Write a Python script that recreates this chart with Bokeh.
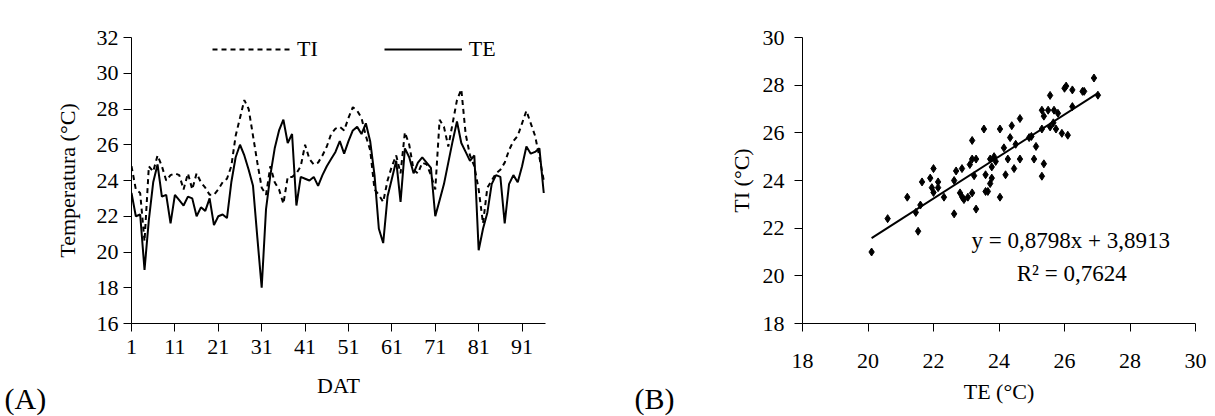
from bokeh.plotting import figure
from bokeh.models import FixedTicker, Label, Legend, LegendItem
from bokeh.layouts import row
from bokeh.embed import file_html
from bokeh.resources import INLINE

FONT = "Liberation Serif"

# ---------------- data (A) ----------------
dat = list(range(1, 97))
te = [23.3, 22.0, 22.1, 19.0, 21.8, 23.9, 24.9, 23.1, 23.2, 21.6,
      23.2, 22.9, 22.6, 23.1, 23.0, 22.0, 22.5, 22.3, 23.0, 21.5,
      22.0, 22.1, 21.9, 23.9, 25.3, 26.0, 25.4, 24.6, 23.7, 20.8,
      18.0, 22.4, 24.3, 25.8, 26.8, 27.4, 26.1, 26.6, 22.6, 24.2,
      24.1, 24.0, 24.2, 23.7, 24.3, 24.8, 25.2, 25.6, 26.2, 25.5,
      26.2, 26.8, 27.0, 26.6, 27.2, 26.2, 24.3, 21.3, 20.5, 23.1,
      24.1, 25.1, 22.8, 25.8, 25.3, 24.4, 25.0, 25.3, 25.0, 24.7,
      22.0, 22.9, 23.8, 25.0, 26.2, 27.3, 26.1, 25.6, 25.1, 25.4,
      20.1, 21.3, 22.2, 23.8, 24.3, 24.2, 21.6, 23.8, 24.3, 23.9,
      24.8, 25.9, 25.5, 25.6, 25.8, 23.3]
ti = [24.8, 23.5, 23.3, 20.6, 24.8, 24.5, 25.4, 24.8, 24.0, 24.3,
      24.4, 24.3, 23.5, 24.4, 23.5, 24.4, 23.9, 23.6, 23.2, 23.2,
      23.5, 23.9, 24.1, 24.8, 26.5, 27.5, 28.5, 28.0, 26.5, 25.0,
      23.6, 23.2, 24.8, 23.9, 23.5, 22.7, 24.2, 24.2, 24.4, 24.8,
      26.0, 25.2, 24.9, 25.0, 25.4, 25.9, 26.6, 26.9, 27.0, 26.8,
      27.5, 28.1, 27.9, 27.5, 26.5, 25.7, 23.5, 23.2, 22.8, 24.0,
      24.8, 25.4, 24.4, 26.7, 26.0, 24.6, 24.4, 25.0, 24.9, 24.3,
      23.5, 27.4, 27.0, 25.9, 27.2, 28.5, 29.1, 26.6, 25.4, 24.8,
      23.5, 21.6, 23.6, 24.0, 24.4, 24.6, 25.0, 25.7, 26.2, 26.5,
      27.2, 27.9, 27.2, 26.5, 25.3, 24.0]
dat_ticks = list(range(1, 97, 10))
temp_ticks = list(range(16, 33, 2))

# ---------------- data (B) ----------------
te_b = [20.11, 20.6, 21.2, 21.46, 21.53, 21.6, 21.65, 21.9, 22.0, 21.95,
        22.0, 22.14, 22.14, 22.32, 22.63, 22.63, 22.69, 22.87, 22.81, 22.88,
        22.93, 23.05, 23.11, 23.18, 23.18, 23.24, 23.18, 23.3, 23.3, 23.54,
        23.59, 23.66, 23.73, 23.78, 23.78, 23.85, 23.73, 23.9, 24.03, 24.03,
        24.15, 24.2, 24.27, 24.34, 24.39, 24.46, 24.51, 24.64, 24.64, 24.92,
        24.99, 25.07, 25.13, 25.31, 25.37, 25.31, 25.31, 25.37, 25.5, 25.56,
        25.56, 25.68, 25.66, 25.74, 25.8, 25.92, 26.0, 26.05, 26.1, 26.24,
        26.24, 26.55, 26.6, 26.9, 27.02, 23.59]
ti_b = [21.0, 22.4, 23.3, 22.66, 21.87, 22.97, 23.94, 24.1, 24.5, 23.7,
        23.5, 23.94, 23.7, 23.3, 24.0, 22.6, 24.4, 24.5, 23.48, 23.3,
        23.2, 23.3, 24.67, 25.68, 24.9, 24.2, 23.48, 22.8, 24.9, 26.16,
        24.24, 23.54, 23.87, 24.1, 24.57, 25.0, 24.9, 24.8, 26.16, 23.3,
        25.37, 24.24, 24.9, 25.8, 26.3, 24.5, 25.52, 26.6, 24.9, 25.8,
        25.85, 24.9, 25.43, 24.18, 24.7, 26.16, 26.95, 26.7, 26.95, 27.57,
        26.25, 26.95, 26.42, 26.16, 26.82, 25.98, 27.87, 27.96, 25.9, 27.8,
        27.1, 27.74, 27.74, 28.3, 27.58, 23.54]
slope = 0.8798
intercept = 3.8913
eq_text = "y = 0,8798x + 3,8913"
r2_text = "R² = 0,7624"
axis_ticks_b = list(range(18, 31, 2))


def style_axes(p, xticks, yticks, xlabel, ylabel):
    p.outline_line_color = None
    p.xgrid.visible = False
    p.ygrid.visible = False
    p.background_fill_color = "white"
    p.border_fill_color = "white"
    for ax in (p.xaxis[0], p.yaxis[0]):
        ax.axis_line_color = "black"
        ax.axis_line_width = 1
        ax.major_tick_line_color = "black"
        ax.major_tick_out = 8
        ax.major_tick_in = 0
        ax.minor_tick_line_color = None
        ax.major_label_text_font = FONT
        ax.major_label_text_font_size = "22px"
        ax.major_label_text_color = "black"
        ax.axis_label_text_font = FONT
        ax.axis_label_text_font_size = "22px"
        ax.axis_label_text_font_style = "normal"
        ax.axis_label_text_color = "black"
    p.xaxis[0].ticker = FixedTicker(ticks=xticks)
    p.yaxis[0].ticker = FixedTicker(ticks=yticks)
    p.xaxis[0].axis_label = xlabel
    p.yaxis[0].axis_label = ylabel


# ---------------- panel A ----------------
pa = figure(width=608, height=416, x_range=(1, 96.4), y_range=(16, 32),
            output_backend="svg", toolbar_location=None,
            min_border_left=131, min_border_right=63,
            min_border_top=37, min_border_bottom=91)
style_axes(pa, dat_ticks, temp_ticks, "DAT", "Temperatura (°C)")
pa.yaxis[0].major_label_standoff = 5
pa.yaxis[0].axis_label_standoff = 14
pa.xaxis[0].major_label_standoff = 8
pa.xaxis[0].axis_label_standoff = 16

r_ti = pa.line(dat, ti, line_color="black", line_width=2, line_dash="5 4")
r_te = pa.line(dat, te, line_color="black", line_width=2)

legend = Legend(items=[LegendItem(label="TI", renderers=[r_ti]),
                       LegendItem(label="TE", renderers=[r_te])],
                orientation="horizontal", location=(81, 261),
                glyph_width=78, glyph_height=20, label_standoff=7,
                spacing=66, padding=0, margin=0,
                border_line_color=None, background_fill_alpha=0,
                label_text_font=FONT, label_text_font_size="22px",
                label_text_color="black")
pa.add_layout(legend)

pa.add_layout(Label(x=-5, y=-75, x_units="screen", y_units="screen",
                    text="(A)", text_font=FONT, text_font_size="30px",
                    text_baseline="alphabetic", text_color="black"),
              "left")

# ---------------- panel B ----------------
pb = figure(width=607, height=416, x_range=(18, 30), y_range=(18, 30),
            output_backend="svg", toolbar_location=None,
            min_border_left=194, min_border_right=20,
            min_border_top=20, min_border_bottom=93)
style_axes(pb, axis_ticks_b, axis_ticks_b, "TE (°C)", "TI (°C)")
pb.yaxis[0].major_label_standoff = 10
pb.yaxis[0].axis_label_standoff = 6
pb.xaxis[0].major_label_standoff = 22
pb.xaxis[0].axis_label_standoff = 8

pb.scatter(te_b, ti_b, marker="diamond", size=8, color="black")
fx = [min(te_b), max(te_b)]
fy = [slope * v + intercept for v in fx]
pb.line(fx, fy, line_color="black", line_width=2)

pb.add_layout(Label(x=26.19, y=21.5, text=eq_text, text_align="center",
                    text_baseline="middle", text_font=FONT,
                    text_font_size="23px", text_color="black"))
pb.add_layout(Label(x=26.22, y=20.1, text=r2_text, text_align="center",
                    text_baseline="middle", text_font=FONT,
                    text_font_size="23px", text_color="black"))
pb.add_layout(Label(x=-51, y=-75, x_units="screen", y_units="screen",
                    text="(B)", text_font=FONT, text_font_size="30px",
                    text_baseline="alphabetic", text_color="black"),
              "left")

layout = row(pa, pb)
open("out.html", "w").write(file_html(layout, INLINE))
